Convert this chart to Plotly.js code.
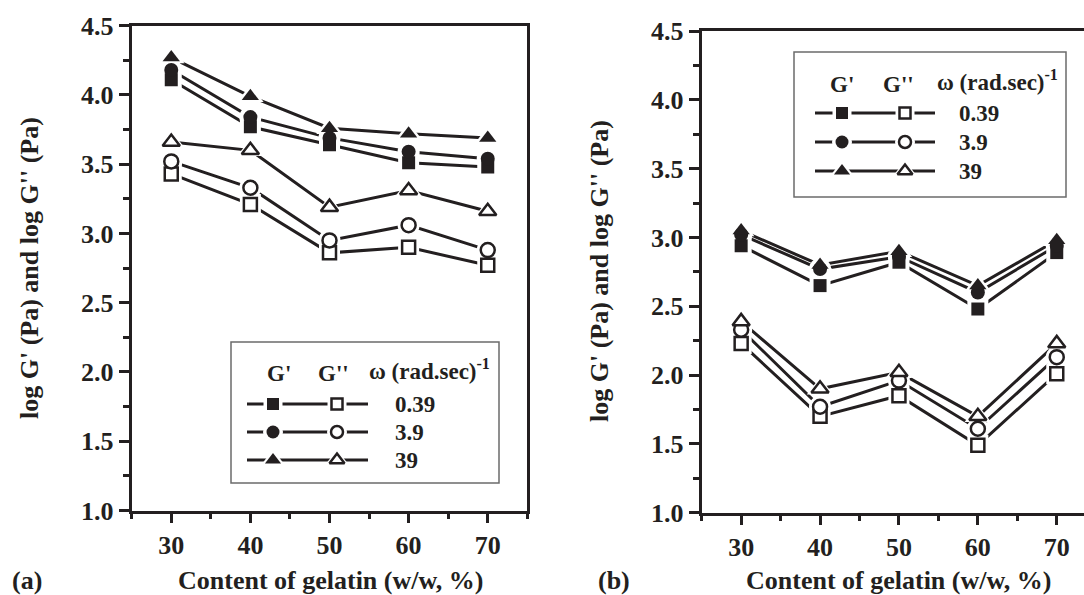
<!DOCTYPE html>
<html>
<head>
<meta charset="utf-8">
<script src="https://cdn.plot.ly/plotly-3.0.1.min.js"></script>
<style>html,body{margin:0;padding:0;background:#fff;}#chart{width:1084px;height:595px;}</style>
</head>
<body>
<div id="chart"></div>
<script>
// ---------- data ----------
const gelatin = [30, 40, 50, 60, 70];
const omegaLabels = ['0.39', '3.9', '39'];
// panel (a): log G' and log G'' at omega = 0.39, 3.9, 39
const aG1_039 = [4.11, 3.77, 3.64, 3.51, 3.48];
const aG1_39  = [4.18, 3.84, 3.69, 3.59, 3.54];
const aG1_390 = [4.27, 3.99, 3.76, 3.72, 3.69];
const aG2_039 = [3.43, 3.21, 2.86, 2.90, 2.77];
const aG2_39  = [3.52, 3.33, 2.95, 3.06, 2.88];
const aG2_390 = [3.66, 3.60, 3.19, 3.31, 3.16];
// panel (b)
const bG1_039 = [2.94, 2.65, 2.82, 2.48, 2.89];
const bG1_39  = [3.02, 2.77, 2.86, 2.60, 2.94];
const bG1_390 = [3.05, 2.80, 2.90, 2.65, 2.98];
const bG2_039 = [2.23, 1.70, 1.85, 1.49, 2.01];
const bG2_39  = [2.33, 1.77, 1.96, 1.61, 2.13];
const bG2_390 = [2.39, 1.90, 2.02, 1.70, 2.23];
const yTickVals = [1.0, 1.5, 2.0, 2.5, 3.0, 3.5, 4.0, 4.5];
const xTickVals = [30, 40, 50, 60, 70];

// ---------- style ----------
const INK = '#231f20';
const FONT = '"Liberation Serif", "Times New Roman", Times, serif';
const W = 1084, H = 595;
const symbols = ['square', 'circle', 'triangle-up'];
const msize = {square: 13, circle: 14, 'triangle-up': 15};

const traces = [];
function addPanel(xa, ya, G1, G2) {
  const series = [];
  G1.forEach((s, i) => series.push({y: s, sym: symbols[i], filled: true}));
  G2.forEach((s, i) => series.push({y: s, sym: symbols[i], filled: false}));
  series.forEach(s => traces.push({x: gelatin, y: s.y, xaxis: xa, yaxis: ya, mode: 'lines',
    line: {color: INK, width: 3}, showlegend: false, hoverinfo: 'skip'}));
  series.forEach(s => traces.push({x: gelatin, y: s.y, xaxis: xa, yaxis: ya, mode: 'markers',
    marker: {symbol: s.sym, size: msize[s.sym] + 8, color: '#fff', line: {width: 0}},
    showlegend: false, hoverinfo: 'skip'}));
  series.forEach(s => traces.push({x: gelatin, y: s.y, xaxis: xa, yaxis: ya, mode: 'markers',
    marker: {symbol: s.sym, size: msize[s.sym], color: s.filled ? INK : '#fff',
      line: {color: INK, width: s.filled ? 0 : 2.5}},
    showlegend: false}));
}
addPanel('x', 'y', [aG1_039, aG1_39, aG1_390], [aG2_039, aG2_39, aG2_390]);
addPanel('x2', 'y2', [bG1_039, bG1_39, bG1_390], [bG2_039, bG2_39, bG2_390]);

// ---------- custom legends (pixel overlay axis) ----------
const shapes = [];
const annotations = [];
const legends = [
  {box: [231, 342, 499, 483], lineX: [247, 368], m1: 273, m2: 337, valX: 393,
   head: {y: 373, g1: 279, g2: 333, w: 367}, rows: [404, 432, 460]},
  {box: [794, 52, 1066, 197], lineX: [815, 935], m1: 842, m2: 905, valX: 957,
   head: {y: 84, g1: 842, g2: 898, w: 935}, rows: [113, 142, 171]}
];
const lf = {family: FONT, size: 23, color: INK, weight: 'bold'};
legends.forEach(L => {
  shapes.push({type: 'rect', xref: 'x3', yref: 'y3', x0: L.box[0], y0: L.box[1], x1: L.box[2], y1: L.box[3],
    line: {color: '#6b6b6b', width: 1.5}, fillcolor: 'rgba(0,0,0,0)'});
  annotations.push({xref: 'x3', yref: 'y3', x: L.head.g1, y: L.head.y, text: "G'", showarrow: false, font: lf, xanchor: 'center', yanchor: 'middle'});
  annotations.push({xref: 'x3', yref: 'y3', x: L.head.g2, y: L.head.y, text: "G''", showarrow: false, font: lf, xanchor: 'center', yanchor: 'middle'});
  annotations.push({xref: 'x3', yref: 'y3', x: L.head.w, y: L.head.y - 4, text: "ω (rad.sec)<sup>-1</sup>", showarrow: false, font: lf, xanchor: 'left', yanchor: 'middle'});
  L.rows.forEach((ry, i) => {
    traces.push({x: L.lineX, y: [ry, ry], xaxis: 'x3', yaxis: 'y3', mode: 'lines', line: {color: INK, width: 3}, showlegend: false, hoverinfo: 'skip'});
    traces.push({x: [L.m1, L.m2], y: [ry, ry], xaxis: 'x3', yaxis: 'y3', mode: 'markers',
      marker: {symbol: symbols[i], size: msize[symbols[i]] + 6, color: '#fff'}, showlegend: false, hoverinfo: 'skip'});
    traces.push({x: [L.m1], y: [ry], xaxis: 'x3', yaxis: 'y3', mode: 'markers',
      marker: {symbol: symbols[i], size: msize[symbols[i]] - 1, color: INK}, showlegend: false, hoverinfo: 'skip'});
    traces.push({x: [L.m2], y: [ry], xaxis: 'x3', yaxis: 'y3', mode: 'markers',
      marker: {symbol: symbols[i], size: msize[symbols[i]] - 2, color: '#fff', line: {color: INK, width: 2.5}}, showlegend: false, hoverinfo: 'skip'});
    annotations.push({xref: 'x3', yref: 'y3', x: L.valX, y: ry, text: omegaLabels[i], showarrow: false, font: lf, xanchor: 'left', yanchor: 'middle'});
  });
});

// axis titles and panel labels
const tf = {family: FONT, size: 26, color: INK, weight: 'bold'};
const yTitle = "log G' (Pa) and log G'' (Pa)";
const xTitle = "Content of gelatin (w/w, %)";
annotations.push({xref: 'x3', yref: 'y3', x: 29, y: 268, text: yTitle, textangle: -90, showarrow: false, font: tf});
annotations.push({xref: 'x3', yref: 'y3', x: 599, y: 271, text: yTitle, textangle: -90, showarrow: false, font: tf});
annotations.push({xref: 'x3', yref: 'y3', x: 330, y: 580, text: xTitle, showarrow: false, font: tf});
annotations.push({xref: 'x3', yref: 'y3', x: 898, y: 580, text: xTitle, showarrow: false, font: tf});
annotations.push({xref: 'x3', yref: 'y3', x: 27, y: 580, text: '(a)', showarrow: false, font: tf});
annotations.push({xref: 'x3', yref: 'y3', x: 614, y: 580, text: '(b)', showarrow: false, font: tf});

// ---------- axes ----------
const tickFont = {family: FONT, size: 26, color: INK, weight: 'bold'};
function xAxis(domain, range, anchor) {
  return {domain, range, anchor, tickmode: 'array', tickvals: xTickVals, ticks: 'outside', ticklen: 9, tickwidth: 3,
    tickcolor: INK, showline: true, linewidth: 3, linecolor: INK, mirror: true, showgrid: false, zeroline: false,
    tickfont: tickFont, minor: {dtick: 5, tick0: 25, ticks: 'outside', ticklen: 5, tickwidth: 3, tickcolor: INK, showgrid: false},
    fixedrange: true};
}
function yAxis(domain, anchor, mirror) {
  return {domain, range: [1.0, 4.5], anchor, tickmode: 'array', tickvals: yTickVals, tickformat: '.1f', ticks: 'outside',
    ticklen: 10, tickwidth: 3, tickcolor: INK, showline: true, linewidth: 3, linecolor: INK, mirror, showgrid: false,
    zeroline: false, tickfont: tickFont,
    minor: {dtick: 0.25, tick0: 1, ticks: 'outside', ticklen: 6, tickwidth: 3, tickcolor: INK, showgrid: false},
    fixedrange: true};
}
const layout = {
  width: W, height: H,
  margin: {l: 0, r: 0, t: 0, b: 0, pad: 0},
  paper_bgcolor: '#fff', plot_bgcolor: 'rgba(0,0,0,0)',
  showlegend: false,
  xaxis: xAxis([131.7 / W, 527.3 / W], [25, 75], 'y'),
  yaxis: yAxis([1 - 510.5 / H, 1 - 25.7 / H], 'x', true),
  xaxis2: xAxis([701.7 / W, 1], [25, 25 + (W - 701.7) / 7.89], 'y2'),
  yaxis2: yAxis([1 - 512.7 / H, 1 - 31 / H], 'x2', false),
  xaxis3: {domain: [0, 1], range: [0, W], anchor: 'y3', visible: false, fixedrange: true},
  yaxis3: {domain: [0, 1], range: [H, 0], anchor: 'x3', visible: false, fixedrange: true},
  shapes, annotations
};
Plotly.newPlot('chart', traces, layout, {staticPlot: true});
</script>
</body>
</html>
